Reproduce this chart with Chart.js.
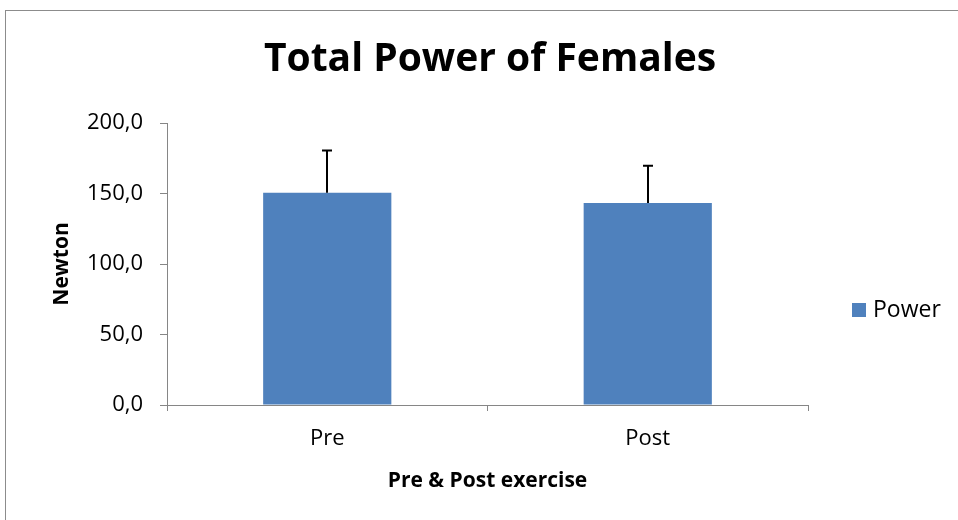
<!DOCTYPE html>
<html>
<head>
<meta charset="utf-8">
<script src="https://cdn.jsdelivr.net/npm/chart.js@4"></script>
<style>
  html, body { margin: 0; padding: 0; background: #fff; }
  #wrap { width: 958px; height: 520px; position: relative; }
</style>
</head>
<body>
<div id="wrap"><canvas id="myChart"></canvas></div>
<script>
// Datos del gráfico
const categorias = ['Pre', 'Post'];
const valores = [150.5, 143.2];
const errores = [30.0, 26.5];
const serie = 'Power';
const titulo = 'Total Power of Females';
const tituloX = 'Pre & Post exercise';
const tituloY = 'Newton';
const yMin = 0, yMax = 200, yPaso = 50;

const colorBarra = '#4F81BD';
const colorEje = '#868686';
const fuente = "'Open Sans', 'Liberation Sans', sans-serif";

// Marco, título y leyenda dibujados a mano
const extras = {
  id: 'extras',
  beforeDraw(chart) {
    const ctx = chart.ctx;
    ctx.save();
    ctx.fillStyle = '#fff';
    ctx.fillRect(0, 0, chart.width, chart.height);
    ctx.strokeStyle = '#8c8c8c';
    ctx.lineWidth = 1;
    ctx.strokeRect(5.5, 10.5, chart.width + 10, chart.height + 10);
    ctx.restore();
  },
  afterDraw(chart) {
    const ctx = chart.ctx;
    ctx.save();
    // título
    ctx.fillStyle = '#000';
    ctx.font = 'bold 39px ' + fuente;
    ctx.textAlign = 'center';
    ctx.textBaseline = 'middle';
    ctx.fillText(titulo, 490, 60);
    // leyenda
    const ds = chart.data.datasets[0];
    ctx.fillStyle = ds.backgroundColor;
    ctx.fillRect(852, 303, 14, 14);
    ctx.fillStyle = '#000';
    ctx.font = '23px ' + fuente;
    ctx.textAlign = 'left';
    ctx.fillText(ds.label, 873, 310);
    ctx.restore();
  }
};

// Barras de error (solo hacia arriba)
const barrasError = {
  id: 'barrasError',
  afterDatasetsDraw(chart) {
    const ctx = chart.ctx;
    const meta = chart.getDatasetMeta(0);
    const y = chart.scales.y;
    ctx.save();
    ctx.strokeStyle = '#000';
    ctx.lineWidth = 2;
    meta.data.forEach((bar, i) => {
      const top = y.getPixelForValue(valores[i] + errores[i]);
      const x = Math.round(bar.x);
      ctx.beginPath();
      ctx.moveTo(x, bar.y);
      ctx.lineTo(x, top);
      ctx.moveTo(x - 5, top);
      ctx.lineTo(x + 5, top);
      ctx.stroke();
    });
    ctx.restore();
  }
};

const ctx = document.getElementById('myChart').getContext('2d');
const chart = new Chart(ctx, {
  type: 'bar',
  data: {
    labels: categorias,
    datasets: [{
      label: serie,
      data: valores,
      backgroundColor: colorBarra,
      borderWidth: 0,
      barPercentage: 0.4,
      categoryPercentage: 1.0
    }]
  },
  options: {
    responsive: true,
    maintainAspectRatio: false,
    animation: false,
    layout: { padding: { left: 0, right: 150, top: 123, bottom: 0 } },
    plugins: {
      legend: { display: false },
      title: { display: false },
      tooltip: { enabled: false }
    },
    scales: {
      x: {
        afterFit(scale) { scale.height = 115; },
        grid: { drawOnChartArea: false, drawTicks: true, tickLength: 6, color: colorEje, offset: true },
        border: { display: true, color: colorEje, width: 1 },
        ticks: { color: '#000', font: { family: fuente, size: 22 }, padding: 15 },
        title: {
          display: true, text: tituloX, color: '#000',
          font: { family: fuente, size: 21, weight: 'bold', lineHeight: 1.2 },
          padding: { top: 0, bottom: 26 }
        }
      },
      y: {
        min: yMin, max: yMax,
        afterFit(scale) { scale.width = 167; },
        grid: { drawOnChartArea: false, drawTicks: true, tickLength: 7, color: colorEje },
        border: { display: true, color: colorEje, width: 1 },
        ticks: {
          stepSize: yPaso, color: '#000', padding: 17,
          font: { family: fuente, size: 22 },
          callback: v => v.toFixed(1).replace('.', ',')
        },
        title: {
          display: true, text: tituloY, color: '#000',
          font: { family: fuente, size: 21, weight: 'bold', lineHeight: 1.2 },
          padding: { top: 49, bottom: 0 }
        }
      }
    }
  },
  plugins: [extras, barrasError]
});
</script>
</body>
</html>
